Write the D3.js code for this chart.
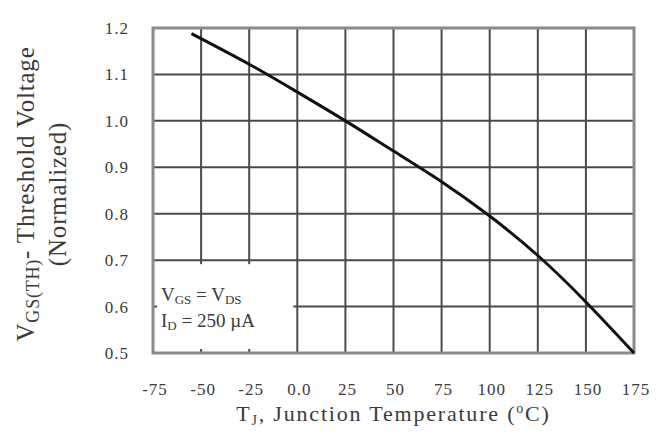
<!DOCTYPE html>
<html><head><meta charset="utf-8">
<script src="https://cdn.jsdelivr.net/npm/d3@7"></script>
<style>
html,body{margin:0;padding:0;background:#fff;}
text{font-family:"Liberation Serif","Times New Roman",serif;fill:#3a3a3a;}
</style></head>
<body><svg id="c" width="671" height="441"></svg>
<script>
const temps = [-55, -25, 0, 25, 50, 75, 100, 125, 150, 175];
const vth   = [1.188, 1.122, 1.062, 1.0, 0.935, 0.869, 0.795, 0.710, 0.610, 0.500];
const xTicks = [-75, -50, -25, 0, 25, 50, 75, 100, 125, 150, 175];
const xTickLabels = ["-75", "-50", "-25", "0.0", "25", "50", "75", "100", "125", "150", "175"];
const yTicks = [0.5, 0.6, 0.7, 0.8, 0.9, 1.0, 1.1, 1.2];
const yTickLabels = ["0.5", "0.6", "0.7", "0.8", "0.9", "1.0", "1.1", "1.2"];
const boxX = [-75, 0];
const boxY = [0.5, 0.7];

const svg = d3.select("#c");
const L = 153, R = 634, T = 28, B = 353;
const x = d3.scaleLinear().domain([-75, 175]).range([L, R]);
const y = d3.scaleLinear().domain([0.5, 1.2]).range([B, T]);

const grid = svg.append("g").attr("stroke", "#4a4a4a").attr("stroke-width", 2);
const tk = 4;
xTicks.slice(1, -1).forEach(v => {
  if (v > boxX[0] && v < boxX[1]) {
    grid.append("line").attr("x1", x(v)).attr("x2", x(v)).attr("y1", y(1.2)).attr("y2", y(boxY[1]) + tk);
    grid.append("line").attr("x1", x(v)).attr("x2", x(v)).attr("y1", y(0.5)).attr("y2", y(0.5) - tk);
  } else {
    grid.append("line").attr("x1", x(v)).attr("x2", x(v)).attr("y1", y(1.2)).attr("y2", y(0.5));
  }
});
yTicks.slice(1, -1).forEach(v => {
  if (v > boxY[0] && v < boxY[1]) {
    grid.append("line").attr("x1", x(boxX[1]) - tk).attr("x2", x(175)).attr("y1", y(v)).attr("y2", y(v));
    grid.append("line").attr("x1", x(-75)).attr("x2", x(-75) + tk).attr("y1", y(v)).attr("y2", y(v));
  } else {
    grid.append("line").attr("x1", x(-75)).attr("x2", x(175)).attr("y1", y(v)).attr("y2", y(v));
  }
});
svg.append("rect").attr("x", L).attr("y", T).attr("width", R - L).attr("height", B - T)
  .attr("fill", "none").attr("stroke", "#8a8a8a").attr("stroke-width", 3);

const line = d3.line().x((d, i) => x(temps[i])).y(d => y(d)).curve(d3.curveNatural);
svg.append("path").datum(vth).attr("d", line).attr("fill", "none")
  .attr("stroke", "#111").attr("stroke-width", 3);

svg.append("g").selectAll("text").data(xTicks).join("text")
  .attr("x", d => x(d) + 2).attr("y", 395).attr("text-anchor", "middle")
  .attr("font-size", 17).attr("letter-spacing", 1)
  .text((d, i) => xTickLabels[i]);
svg.append("g").selectAll("text").data(yTicks).join("text")
  .attr("x", 129).attr("y", d => y(d) + 6).attr("text-anchor", "end")
  .attr("font-size", 17).attr("letter-spacing", 1)
  .text((d, i) => yTickLabels[i]);

const xt = svg.append("text").attr("x", (L + R) / 2).attr("y", 421).attr("text-anchor", "middle")
  .attr("font-size", 22).attr("letter-spacing", 1.8);
xt.append("tspan").text("T");
xt.append("tspan").attr("font-size", 14).attr("dy", 4).text("J");
xt.append("tspan").attr("dy", -4).text(", Junction Temperature (");
xt.append("tspan").attr("font-size", 14).attr("dy", -8).text("o");
xt.append("tspan").attr("dy", 8).text("C)");

const yg = svg.append("g").attr("transform", "translate(0,194) rotate(-90)");
const y1 = yg.append("text").attr("x", 0).attr("y", 34).attr("text-anchor", "middle")
  .attr("font-size", 25).attr("letter-spacing", 0.8);
y1.append("tspan").text("V");
y1.append("tspan").attr("font-size", 18).attr("dy", 5).text("GS(TH)");
y1.append("tspan").attr("dy", -5).text("- Threshold Voltage");
yg.append("text").attr("x", 0).attr("y", 66).attr("text-anchor", "middle")
  .attr("font-size", 25).attr("letter-spacing", 0.8).text("(Normalized)");

const a1 = svg.append("text").attr("x", 161).attr("y", 301).attr("font-size", 19);
a1.append("tspan").text("V");
a1.append("tspan").attr("font-size", 13).attr("dy", 3).text("GS");
a1.append("tspan").attr("dy", -3).text(" = V");
a1.append("tspan").attr("font-size", 13).attr("dy", 3).text("DS");
const a2 = svg.append("text").attr("x", 161).attr("y", 327).attr("font-size", 19);
a2.append("tspan").text("I");
a2.append("tspan").attr("font-size", 13).attr("dy", 3).text("D");
a2.append("tspan").attr("dy", -3).text(" = 250 µA");
</script></body></html>
